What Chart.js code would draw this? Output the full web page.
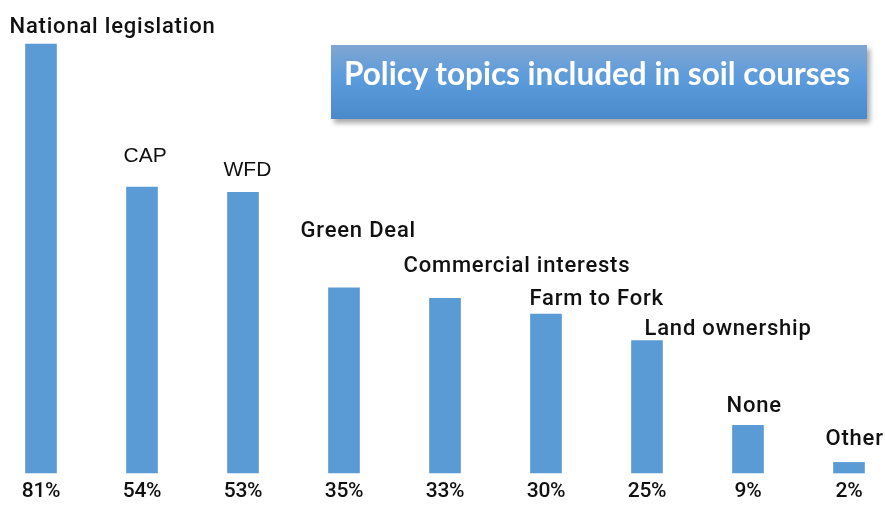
<!DOCTYPE html>
<html>
<head>
<meta charset="utf-8">
<script src="https://cdn.jsdelivr.net/npm/chart.js@4"></script>
<style>
  html, body { margin: 0; padding: 0; background: #ffffff; }
  #wrap { position: relative; width: 885px; height: 505px; }
  #title {
    position: absolute; left: 331px; top: 45px; width: 536px; height: 74px;
    background: linear-gradient(to bottom, #7fa6d2 0%, #5c9bdc 45%, #4a8acb 100%);
    box-shadow: 3px 4px 5px rgba(0,0,0,0.35);
    color: #ffffff; font-family: Lato, "Open Sans", sans-serif; font-weight: bold;
    font-size: 31.5px; line-height: 32px; box-sizing: border-box; padding: 12px 0 0 13px;
    white-space: nowrap;
  }
</style>
</head>
<body>
<div id="wrap">
  <canvas id="c" width="885" height="505"></canvas>
  <div id="title">Policy topics included in soil courses</div>
</div>
<script>
const categories = ["National legislation", "CAP", "WFD", "Green Deal", "Commercial interests", "Farm to Fork", "Land ownership", "None", "Other"];
const values = [81, 54, 53, 35, 33, 30, 25, 9, 2];
const valueLabels = ["81%", "54%", "53%", "35%", "33%", "30%", "25%", "9%", "2%"];

// label placement relative to each bar's left edge / top (dx, dy) and font
const labelOffsets = [[-16,-11],[-3,-25],[-4,-16],[-28,-51],[-26,-26],[-1,-9],[13,-6],[-6,-13],[-8,-17]];
const labelFonts = ["Roboto","Liberation Sans","Liberation Sans","Roboto","Roboto","Roboto","Roboto","Roboto","Roboto"];

const labelPlugin = {
  id: 'barLabels',
  afterDatasetsDraw(chart) {
    const ctx = chart.ctx;
    const meta = chart.getDatasetMeta(0);
    ctx.save();
    ctx.fillStyle = '#111111';
    meta.data.forEach((bar, i) => {
      const left = bar.x - bar.width / 2;
      if (labelFonts[i] === 'Roboto') {
        ctx.font = '500 22px Roboto';
        ctx.letterSpacing = '0.8px';
      } else {
        ctx.font = '21px "Liberation Sans"';
        ctx.letterSpacing = '0px';
      }
      ctx.textAlign = 'left';
      ctx.textBaseline = 'alphabetic';
      ctx.fillText(categories[i], left + labelOffsets[i][0], bar.y + labelOffsets[i][1]);
      ctx.font = '500 21px Roboto';
      ctx.letterSpacing = '-0.3px';
      ctx.textAlign = 'center';
      ctx.fillText(valueLabels[i], bar.x, chart.chartArea.bottom + 24);
    });
    ctx.restore();
  }
};

new Chart(document.getElementById('c'), {
  type: 'bar',
  data: {
    labels: categories,
    datasets: [{
      data: values,
      backgroundColor: '#5b9bd5',
      borderWidth: 0,
      barThickness: 31,
      clip: false
    }]
  },
  options: {
    responsive: false,
    animation: false,
    layout: { padding: { left: 41, right: 36, top: 23, bottom: 32 } },
    plugins: { legend: { display: false }, tooltip: { enabled: false } },
    scales: {
      x: { display: false, offset: false, grid: { display: false } },
      y: { display: false, min: 0, max: 85 }
    }
  },
  plugins: [labelPlugin]
});
</script>
</body>
</html>
